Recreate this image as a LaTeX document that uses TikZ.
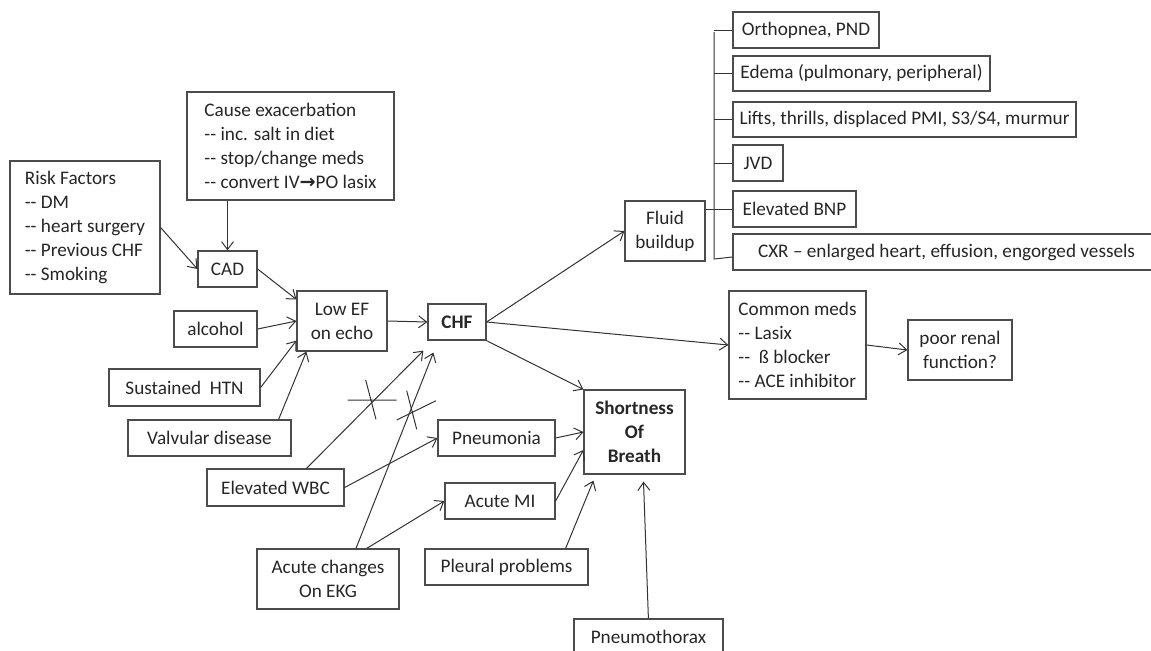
\documentclass[tikz,border=0pt]{standalone}
\usepackage{fontspec}
\setmainfont{Carlito}[Ligatures=TeXOff]
\newfontfamily\arrowfont{DejaVu Sans}
\usetikzlibrary{arrows.meta}
\usetikzlibrary{calc}

\begin{document}
\begin{tikzpicture}[x=0.5pt, y=-0.5pt, line width=.5pt,
  box/.style={draw=black!70, line width=.6pt, inner sep=0pt, align=center, text=black!85, font=\fontsize{9.6}{12}\selectfont},
  lbox/.style={box, align=left},
  edge/.style={draw=black!80, -{Straight Barb[length=4pt, width=6pt]}},
  tick/.style={draw=black!80}]
  \useasboundingbox (0,0) rectangle (1151,650);
  \node[lbox, minimum width=75pt, minimum height=66.5pt] (risk) at (85,227.5) {Risk Factors\\-- DM\\-- heart surgery\\-- Previous CHF\\-- Smoking};
  \node[lbox, minimum width=103.5pt, minimum height=54pt] (cause) at (290.5,146) {Cause exacerbation\\-- inc. salt in diet\\-- stop/change meds\\-- convert IV{\arrowfont\bfseries →}PO lasix};
  \node[box, minimum width=29.5pt, minimum height=18pt] (cad) at (227.5,269) {CAD};
  \node[box, minimum width=45pt, minimum height=30pt] (lowef) at (342,321) {Low EF\\on echo};
  \node[box, minimum width=41.5pt, minimum height=18pt] (alcohol) at (215.5,329) {alcohol};
  \node[box, minimum width=75.5pt, minimum height=18.5pt] (htn) at (184.5,387.5) {Sustained\ \ HTN};
  \node[box, minimum width=81.5pt, minimum height=18pt] (valv) at (209.5,438) {Valvular disease};
  \node[box, minimum width=68.5pt, minimum height=18.5pt] (wbc) at (275.5,487.5) {Elevated WBC};
  \node[box, minimum width=71pt, minimum height=30pt] (ekg) at (328,579) {Acute changes\\On EKG};
  \node[box, minimum width=29pt, minimum height=18pt, font=\fontsize{9.6}{12}\selectfont\bfseries] (chf) at (457,322) {CHF};
  \node[box, minimum width=58.5pt, minimum height=18pt] (pneu) at (496.5,438) {Pneumonia};
  \node[box, minimum width=55pt, minimum height=18pt] (ami) at (500,501) {Acute MI};
  \node[box, minimum width=81.5pt, minimum height=18pt] (pleural) at (506.5,567) {Pleural problems};
  \node[box, minimum width=74.5pt, minimum height=18pt] (ptx) at (648.5,637) {Pneumothorax};
  \node[box, minimum width=50.5pt, minimum height=42pt, font=\fontsize{9.6}{12}\selectfont\bfseries] (sob) at (634.5,432) {Shortness\\Of\\Breath};
  \node[box, minimum width=40pt, minimum height=30pt] (fluid) at (665,231) {Fluid\\buildup};
  \node[box, minimum width=73pt, minimum height=18pt] (orth) at (806,30) {Orthopnea, PND};
  \node[box, minimum width=128.5pt, minimum height=17.5pt] (edema) at (861.5,73.5) {Edema (pulmonary, peripheral)};
  \node[box, minimum width=171.5pt, minimum height=17.5pt] (lifts) at (904.5,119.5) {Lifts, thrills, displaced PMI, S3/S4, murmur};
  \node[box, minimum width=25pt, minimum height=18pt] (jvd) at (758,163) {JVD};
  \node[box, minimum width=61.5pt, minimum height=18pt] (bnp) at (794.5,209) {Elevated BNP};
  \node[box, minimum width=213.5pt, minimum height=18pt] (cxr) at (946.5,252) {CXR – enlarged heart, effusion, engorged vessels};
  \node[lbox, minimum width=68.5pt, minimum height=54pt] (meds) at (797.5,345) {Common meds\\-- Lasix\\--\ \ ß blocker\\-- ACE inhibitor};
  \node[box, minimum width=52pt, minimum height=30pt] (renal) at (960,350) {poor renal\\function?};

  \draw[edge] (risk.east) -- (cad.west);
  \draw[edge] (cad.north |- cause.south) -- (cad.north);
  \draw[edge] (cad.east) -- ($(lowef.north west)+(0,9)$);
  \draw[edge] (alcohol.east) -- (lowef.west);
  \draw[edge] (htn.east) -- ($(lowef.south west)+(0,-11)$);
  \draw[edge] ($(valv.north east)+(-13,0)$) -- ($(lowef.south west)+(10,0)$);
  \draw[edge] (lowef.east) -- (chf.west);
  \draw[edge] ($(wbc.north)+(31,0)$) -- ($(chf.south west)+(-4,10)$);
  \draw[edge] ($(ekg.north)+(28,0)$) -- ($(chf.south west)+(6,12)$);
  \draw[edge] (wbc.east) -- (pneu.west);
  \draw[edge] ($(ekg.north)+(38.7,0)$) -- (ami.west);
  \draw[edge] (pneu.east) -- (sob.west);
  \draw[edge] (ami.east) -- ($(sob.west)+(0,18)$);
  \draw[edge] ($(pleural.north east)+(-23,0)$) -- ($(sob.south west)+(10,6)$);
  \draw[edge] ($(ptx.north west)+(75,0)$) -- ($(sob.south)+(9,7)$);
  \draw[edge] (chf.south east) -- (sob.north west);
  \draw[edge] (chf.east) -- (fluid.west);
  \draw[edge] (chf.east) -- (meds.west);
  \draw[edge] (meds.east) -- (renal.west);

  \draw[tick] (347.7,400) -- (396.7,400) (365.7,380) -- (376,419.3);
  \draw[tick] (396.7,420) -- (436,400.7) (406.7,390.7) -- (416.7,429.3);

  \coordinate (spine) at (714,32);
  \draw[tick] (spine) -- (714,259) -- (cxr.west |- 0,257);
  \foreach \n in {orth,edema,lifts,jvd,bnp}
    \draw[tick] (spine |- \n.west) -- (\n.west);
  \draw[tick] (fluid.east |- bnp.west) -- (spine |- bnp.west);
\end{tikzpicture}
\end{document}
